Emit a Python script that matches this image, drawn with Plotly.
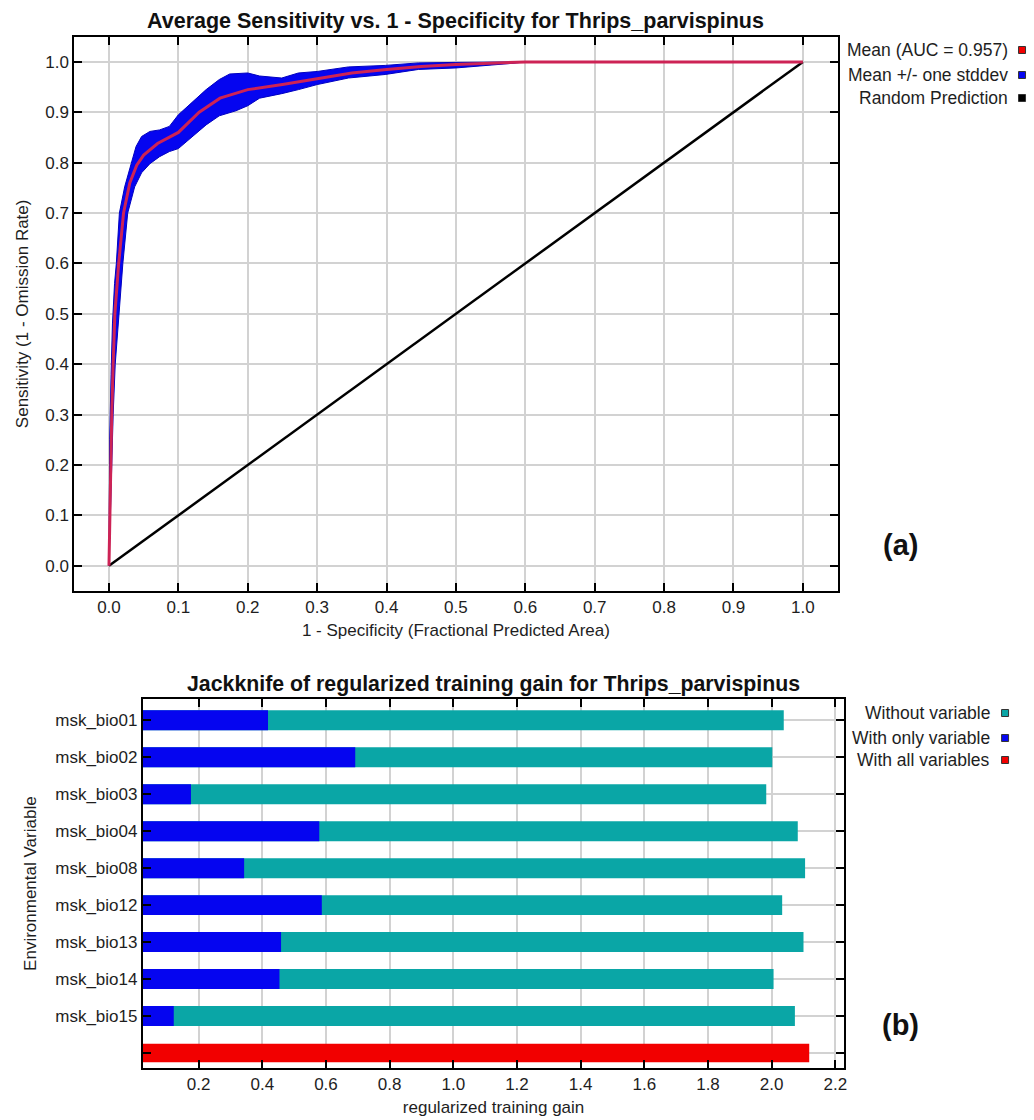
import plotly.graph_objects as go

# ---------------- ROC data ----------------
fpr_mean = [0.0, 0.001, 0.003, 0.004, 0.006, 0.0085, 0.014, 0.021, 0.030, 0.040, 0.050,
            0.070, 0.100, 0.130, 0.160, 0.200, 0.250, 0.300, 0.350, 0.400, 0.450, 0.500,
            0.550, 0.600, 1.0]
tpr_mean = [0.0, 0.10, 0.20, 0.30, 0.40, 0.50, 0.60, 0.70, 0.760, 0.795, 0.815,
            0.838, 0.860, 0.900, 0.928, 0.945, 0.955, 0.966, 0.978, 0.985, 0.991, 0.995,
            0.998, 1.0, 1.0]

band_up_x = [0.0, 0.000, 0.001, 0.003, 0.005, 0.008, 0.0106, 0.015, 0.0226, 0.032, 0.039,
             0.047, 0.059, 0.073, 0.087, 0.100, 0.121, 0.140, 0.159, 0.174, 0.200, 0.217,
             0.249, 0.273, 0.300, 0.345, 0.398, 0.446, 0.500, 0.542, 0.600]
band_up_y = [0.0, 0.12, 0.25, 0.38, 0.48, 0.56, 0.60, 0.70, 0.752, 0.798, 0.832,
             0.852, 0.862, 0.865, 0.872, 0.895, 0.921, 0.945, 0.965, 0.976, 0.978, 0.972,
             0.968, 0.978, 0.981, 0.990, 0.993, 0.998, 0.999, 1.0, 1.0]
band_lo_x = [0.0, 0.002, 0.004, 0.006, 0.009, 0.014, 0.020, 0.027, 0.037, 0.047, 0.059,
             0.073, 0.087, 0.100, 0.121, 0.140, 0.159, 0.183, 0.200, 0.217, 0.249, 0.273,
             0.300, 0.345, 0.398, 0.446, 0.500, 0.542, 0.580, 0.600]
band_lo_y = [0.0, 0.10, 0.20, 0.30, 0.40, 0.50, 0.60, 0.70, 0.752, 0.780, 0.798,
             0.812, 0.822, 0.828, 0.852, 0.875, 0.893, 0.903, 0.913, 0.928, 0.937, 0.945,
             0.955, 0.968, 0.975, 0.985, 0.988, 0.993, 0.997, 1.0]

random_x = [0.0, 1.0]
random_y = [0.0, 1.0]

roc_ticks = [0.0, 0.1, 0.2, 0.3, 0.4, 0.5, 0.6, 0.7, 0.8, 0.9, 1.0]

# ---------------- Jackknife data ----------------
variables = ["msk_bio01", "msk_bio02", "msk_bio03", "msk_bio04", "msk_bio08",
             "msk_bio12", "msk_bio13", "msk_bio14", "msk_bio15"]
without_variable = [2.038, 2.002, 1.983, 2.082, 2.105, 2.033, 2.100, 2.006, 2.073]
with_only_variable = [0.418, 0.692, 0.176, 0.579, 0.343, 0.587, 0.459, 0.454, 0.122]
all_label = [" "]
with_all_variables = [2.118]
gain_ticks = [0.2, 0.4, 0.6, 0.8, 1.0, 1.2, 1.4, 1.6, 1.8, 2.0, 2.2]

# ---------------- figure ----------------
W, H = 1034, 1120
FONT = "Liberation Sans, Arial, sans-serif"
BLUE = "#0505f0"
RED = "#f20000"
TEAL = "#0aa6a6"
MEANC = "rgb(205,35,85)"
GRID = "#d2d2d2"
TXT = "#1e1e1e"

fig = go.Figure()

# std band polygon
fig.add_trace(go.Scatter(
    x=band_up_x + band_lo_x[::-1], y=band_up_y + band_lo_y[::-1],
    fill="toself", fillcolor=BLUE, mode="lines",
    line=dict(color="#0000c0", width=1), showlegend=False,
    xaxis="x", yaxis="y", hoverinfo="skip"))
# random prediction
fig.add_trace(go.Scatter(x=random_x, y=random_y, mode="lines",
                         line=dict(color="black", width=2.5), showlegend=False,
                         xaxis="x", yaxis="y"))
# mean
fig.add_trace(go.Scatter(x=fpr_mean, y=tpr_mean, mode="lines",
                         line=dict(color=MEANC, width=3), showlegend=False,
                         xaxis="x", yaxis="y"))

# jackknife bars
fig.add_trace(go.Bar(y=variables, x=without_variable, orientation="h",
                     marker=dict(color=TEAL, line=dict(width=0)), width=0.54,
                     showlegend=False, xaxis="x2", yaxis="y2"))
fig.add_trace(go.Bar(y=variables, x=with_only_variable, orientation="h",
                     marker=dict(color=BLUE, line=dict(width=0)), width=0.54,
                     showlegend=False, xaxis="x2", yaxis="y2"))
fig.add_trace(go.Bar(y=all_label, x=with_all_variables, orientation="h",
                     marker=dict(color=RED, line=dict(width=0)), width=0.5,
                     showlegend=False, xaxis="x2", yaxis="y2"))

axis_common = dict(showline=True, linecolor="black", linewidth=2, mirror="ticks",
                   ticks="inside", ticklen=8, tickwidth=1.5, tickcolor="black",
                   showgrid=True, gridcolor=GRID, gridwidth=1.5, zeroline=False,
                   tickfont=dict(family=FONT, size=17, color=TXT))

# plot areas (pixels)
tx0, tx1, ty0, ty1 = 74.5, 840, 36.7, 591
bx0, bx1, by0, by1 = 143.3, 846.7, 699.3, 1068

fig.update_layout(
    width=W, height=H, margin=dict(l=0, r=0, t=0, b=0),
    paper_bgcolor="white", plot_bgcolor="white", barmode="overlay",
    font=dict(family=FONT, size=17, color=TXT),
    xaxis=dict(domain=[tx0 / W, tx1 / W], anchor="y", range=[-0.05, 1.05],
               tickvals=roc_ticks, tickformat=".1f",
               title=dict(text="1 - Specificity (Fractional Predicted Area)", standoff=8,
                          font=dict(family=FONT, size=17, color=TXT)),
               **axis_common),
    yaxis=dict(domain=[1 - ty1 / H, 1 - ty0 / H], anchor="x", range=[-0.05, 1.05],
               tickvals=roc_ticks, tickformat=".1f",
               title=dict(text="Sensitivity (1 - Omission Rate)", standoff=12,
                          font=dict(family=FONT, size=17, color=TXT)),
               **axis_common),
    xaxis2=dict(domain=[bx0 / W, bx1 / W], anchor="y2", range=[0.025, 2.228],
                tickvals=gain_ticks, tickformat=".1f",
                title=dict(text="regularized training gain", standoff=8,
                           font=dict(family=FONT, size=17, color=TXT)),
                **axis_common),
    yaxis2=dict(domain=[1 - by1 / H, 1 - by0 / H], anchor="x2",
                type="category", categoryorder="array",
                categoryarray=variables + all_label, range=[9.405, -0.567],
                title=dict(text="Environmental Variable", standoff=14,
                           font=dict(family=FONT, size=17, color=TXT)),
                **axis_common),
)

ann = []
# titles
ann.append(dict(text="<b>Average Sensitivity vs. 1 - Specificity for Thrips_parvispinus</b>",
                x=(tx0 + tx1) / 2 / W, y=1 - 21 / H, xref="paper", yref="paper",
                xanchor="center", yanchor="middle", showarrow=False,
                font=dict(family=FONT, size=21.5, color="#111")))
ann.append(dict(text="<b>Jackknife of regularized training gain for Thrips_parvispinus</b>",
                x=(bx0 + bx1) / 2 / W, y=1 - 684 / H, xref="paper", yref="paper",
                xanchor="center", yanchor="middle", showarrow=False,
                font=dict(family=FONT, size=21.3, color="#111")))
# panel labels
ann.append(dict(text="<b>(a)</b>", x=903 / W, y=1 - 545 / H, xref="paper", yref="paper",
                xanchor="center", yanchor="middle", showarrow=False,
                font=dict(family=FONT, size=29, color="#111")))
ann.append(dict(text="<b>(b)</b>", x=903 / W, y=1 - 1025 / H, xref="paper", yref="paper",
                xanchor="center", yanchor="middle", showarrow=False,
                font=dict(family=FONT, size=29, color="#111")))

# legends (text right-aligned, swatch to the right)
legend_top = [("Mean (AUC = 0.957)", RED, 50), ("Mean +/- one stddev", BLUE, 75),
              ("Random Prediction", "black", 98)]
legend_bot = [("Without variable", TEAL, 713), ("With only variable", BLUE, 738),
              ("With all variables", RED, 760)]
shapes = []
for items, txt_right, sq_x in ((legend_top, 1013, 1025), (legend_bot, 995, 1008)):
    for label, col, yy in items:
        ann.append(dict(text=label, x=txt_right / W, y=1 - yy / H, xref="paper", yref="paper",
                        xanchor="right", yanchor="middle", showarrow=False,
                        font=dict(family=FONT, size=17.5, color=TXT)))
        shapes.append(dict(type="rect", xref="paper", yref="paper",
                           x0=(sq_x - 3.5) / W, x1=(sq_x + 3.5) / W,
                           y0=1 - (yy + 3.5) / H, y1=1 - (yy - 3.5) / H,
                           fillcolor=col, line=dict(color="#333", width=1)))

fig.update_layout(annotations=ann, shapes=shapes)

fig.write_html("out.html", config={"displayModeBar": False},
               post_script="document.body.style.margin='0';")
